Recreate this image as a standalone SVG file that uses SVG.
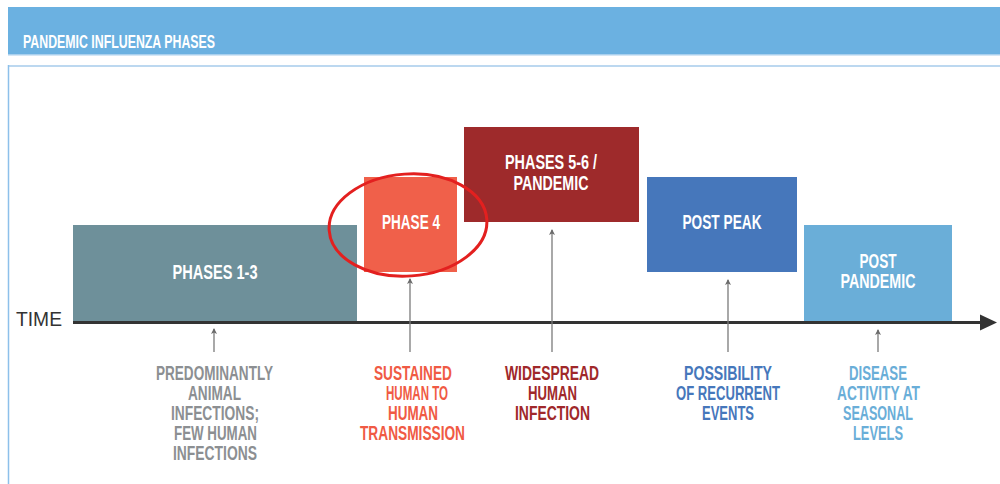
<svg xmlns="http://www.w3.org/2000/svg" width="1000" height="484" viewBox="0 0 1000 484">
<defs>
<style>
.t{font-family:"Liberation Sans Narrow","Liberation Sans",Arial,sans-serif;font-weight:bold;text-anchor:middle}
.w{fill:#ffffff;font-size:20px}
.d{font-size:20px}
.g{fill:#8c8f92}
.o{fill:#f05a44}
.r{fill:#a0282a}
.b{fill:#4677bb}
.lb{fill:#6aaed8}
.ptr{stroke:#7a7a7a;stroke-width:1.3;fill:none}
</style>
<marker id="ah" markerWidth="8" markerHeight="8" refX="4" refY="1" orient="0" markerUnits="userSpaceOnUse" viewBox="0 0 8 8">
<path d="M1,6 L4,0 L7,6 L4,4.5 Z" fill="#6a6a6a"/>
</marker>
</defs>
<rect x="0" y="0" width="1000" height="484" fill="#ffffff"/>
<g id="header">
<rect x="8" y="7" width="992" height="47" fill="#6bb1e1"/>
<rect x="8" y="54" width="992" height="1.5" fill="#a9d0ee"/>
<text x="23" y="48" style="font-family:'Liberation Sans Narrow','Liberation Sans',Arial,sans-serif;font-weight:bold;font-size:18px;fill:#ffffff" textLength="192" lengthAdjust="spacingAndGlyphs">PANDEMIC INFLUENZA PHASES</text>
</g>
<g id="frame">
<line x1="8" y1="66" x2="1000" y2="66" stroke="#bcd8f0" stroke-width="2"/>
<line x1="8.5" y1="65" x2="8.5" y2="484" stroke="#8dc0ea" stroke-width="1.5"/>
</g>
<g id="phases-1-3">
<rect x="73" y="225" width="284" height="97" fill="#6e909a"/>
<text class="t w" x="215" y="279" textLength="85" lengthAdjust="spacingAndGlyphs">PHASES 1-3</text>
</g>
<g id="phase-4">
<rect x="364" y="177" width="93" height="95" fill="#f0604a"/>
<text class="t w" x="411" y="229" textLength="58" lengthAdjust="spacingAndGlyphs">PHASE 4</text>
</g>
<g id="phases-5-6">
<rect x="464" y="127" width="175" height="95" fill="#9e2a2b"/>
<text class="t w" x="551" y="169" textLength="92" lengthAdjust="spacingAndGlyphs">PHASES 5-6 /</text>
<text class="t w" x="551" y="190" textLength="75" lengthAdjust="spacingAndGlyphs">PANDEMIC</text>
</g>
<g id="post-peak">
<rect x="647" y="177" width="150" height="95" fill="#4677bb"/>
<text class="t w" x="722" y="229" textLength="79" lengthAdjust="spacingAndGlyphs">POST PEAK</text>
</g>
<g id="post-pandemic">
<rect x="804" y="225" width="148" height="97" fill="#6aaed8"/>
<text class="t w" x="878" y="268" textLength="37" lengthAdjust="spacingAndGlyphs">POST</text>
<text class="t w" x="878" y="288" textLength="75" lengthAdjust="spacingAndGlyphs">PANDEMIC</text>
</g>
<g id="ellipse-highlight">
<ellipse cx="408" cy="225" rx="79" ry="51" fill="none" stroke="#e3201f" stroke-width="3" transform="rotate(-4 408 225)"/>
</g>
<g id="time-axis">
<line x1="73" y1="322.5" x2="984" y2="322.5" stroke="#333333" stroke-width="3"/>
<polygon points="980,314.5 997,322.5 980,330.5" fill="#333333"/>
<text x="16" y="326" style="font-family:'Liberation Sans Narrow','Liberation Sans',Arial,sans-serif;font-size:20px;fill:#333333" textLength="46" lengthAdjust="spacingAndGlyphs">TIME</text>
</g>
<g id="connectors">
<line class="ptr" x1="214" y1="352" x2="214" y2="329" marker-end="url(#ah)"/>
<line class="ptr" x1="410" y1="352" x2="410" y2="279" marker-end="url(#ah)"/>
<line class="ptr" x1="552" y1="352" x2="552" y2="230" marker-end="url(#ah)"/>
<line class="ptr" x1="728" y1="352" x2="728" y2="280" marker-end="url(#ah)"/>
<line class="ptr" x1="878" y1="352" x2="878" y2="330" marker-end="url(#ah)"/>
</g>
<g id="desc-phases-1-3">
<text class="t d g" x="214.5" y="380" textLength="117" lengthAdjust="spacingAndGlyphs">PREDOMINANTLY</text>
<text class="t d g" x="214.5" y="400" textLength="53" lengthAdjust="spacingAndGlyphs">ANIMAL</text>
<text class="t d g" x="215" y="420" textLength="88" lengthAdjust="spacingAndGlyphs">INFECTIONS;</text>
<text class="t d g" x="215.5" y="440" textLength="83" lengthAdjust="spacingAndGlyphs">FEW HUMAN</text>
<text class="t d g" x="215" y="460" textLength="84" lengthAdjust="spacingAndGlyphs">INFECTIONS</text>
</g>
<g id="desc-phase-4">
<text class="t d o" x="413" y="380" textLength="78" lengthAdjust="spacingAndGlyphs">SUSTAINED</text>
<text class="t d o" x="417" y="400" textLength="62" lengthAdjust="spacingAndGlyphs">HUMAN TO</text>
<text class="t d o" x="413" y="420" textLength="50" lengthAdjust="spacingAndGlyphs">HUMAN</text>
<text class="t d o" x="412.5" y="440" textLength="105" lengthAdjust="spacingAndGlyphs">TRANSMISSION</text>
</g>
<g id="desc-phases-5-6">
<text class="t d r" x="552" y="380" textLength="94" lengthAdjust="spacingAndGlyphs">WIDESPREAD</text>
<text class="t d r" x="552.5" y="400" textLength="49" lengthAdjust="spacingAndGlyphs">HUMAN</text>
<text class="t d r" x="552.5" y="420" textLength="75" lengthAdjust="spacingAndGlyphs">INFECTION</text>
</g>
<g id="desc-post-peak">
<text class="t d b" x="728" y="380" textLength="88" lengthAdjust="spacingAndGlyphs">POSSIBILITY</text>
<text class="t d b" x="728" y="400" textLength="104" lengthAdjust="spacingAndGlyphs">OF RECURRENT</text>
<text class="t d b" x="728" y="420" textLength="52" lengthAdjust="spacingAndGlyphs">EVENTS</text>
</g>
<g id="desc-post-pandemic">
<text class="t d lb" x="878" y="380" textLength="58" lengthAdjust="spacingAndGlyphs">DISEASE</text>
<text class="t d lb" x="878.5" y="400" textLength="83" lengthAdjust="spacingAndGlyphs">ACTIVITY AT</text>
<text class="t d lb" x="878" y="420" textLength="70" lengthAdjust="spacingAndGlyphs">SEASONAL</text>
<text class="t d lb" x="878" y="440" textLength="50" lengthAdjust="spacingAndGlyphs">LEVELS</text>
</g>
</svg>
